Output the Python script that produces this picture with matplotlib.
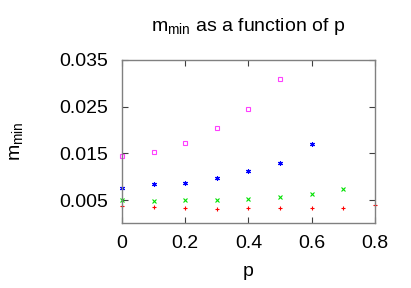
import matplotlib
matplotlib.use("Agg")
import matplotlib.pyplot as plt

plt.rcParams['font.family'] = ['Liberation Sans', 'DejaVu Sans']

p_red = [0.0, 0.1, 0.2, 0.3, 0.4, 0.5, 0.6, 0.7, 0.8]
m_red = [0.00373, 0.00345, 0.0033, 0.00318, 0.00336, 0.0033, 0.00336, 0.0033, 0.00394]
p_green = [0.0, 0.1, 0.2, 0.3, 0.4, 0.5, 0.6, 0.7]
m_green = [0.00495, 0.0048, 0.00495, 0.00495, 0.00522, 0.00572, 0.0063, 0.00737]
p_blue = [0.0, 0.1, 0.2, 0.3, 0.4, 0.5, 0.6]
m_blue = [0.00758, 0.00844, 0.00872, 0.00972, 0.01116, 0.01293, 0.0170]
p_mag = [0.0, 0.1, 0.2, 0.3, 0.4, 0.5]
m_mag = [0.01443, 0.01522, 0.01715, 0.02036, 0.02456, 0.03092]

xticks = [0, 0.2, 0.4, 0.6, 0.8]
xticklabels = ['0', '0.2', '0.4', '0.6', '0.8']
yticks = [0.005, 0.015, 0.025, 0.035]
yticklabels = ['0.005', '0.015', '0.025', '0.035']

fig = plt.figure(figsize=(4.11, 2.88), dpi=100)
ax = fig.add_axes([0.2968, 0.2243, 0.6156, 0.5674])

ax.plot(p_red, m_red, linestyle='none', marker='+', color='#ff0000', markersize=3.5, markeredgewidth=0.8, clip_on=False)
ax.plot(p_green, m_green, linestyle='none', marker='x', color='#00e000', markersize=3, markeredgewidth=0.8, clip_on=False)
ax.plot(p_blue, m_blue, linestyle='none', marker=(6, 2, 0), color='#0000ff', markersize=3.5, markeredgewidth=0.8, clip_on=False)
ax.plot(p_mag, m_mag, linestyle='none', marker='s', color='#ff40ff', markerfacecolor='none', markersize=3.5, markeredgewidth=0.8, clip_on=False)

ax.set_xlim(0, 0.8)
ax.set_ylim(0, 0.035)
ax.set_xticks(xticks)
ax.set_xticklabels(xticklabels)
ax.set_yticks(yticks)
ax.set_yticklabels(yticklabels)
ax.tick_params(axis='x', direction='in', top=True, length=4, width=0.8, labelsize=14, color='#404040', pad=8)
ax.tick_params(axis='y', direction='in', right=True, length=4, width=0.8, labelsize=14, color='#404040', pad=10)
for s in ax.spines.values():
    s.set_color('#808080')
    s.set_linewidth(1.0)

ax.set_title(r'm$_{\mathregular{min}}$ as a function of p', fontsize=14, pad=21)
ax.set_xlabel('p', fontsize=14, labelpad=8)
ax.set_ylabel(r'm$_{\mathregular{min}}$', fontsize=14, labelpad=24)

fig.savefig('out.png', dpi=100)
